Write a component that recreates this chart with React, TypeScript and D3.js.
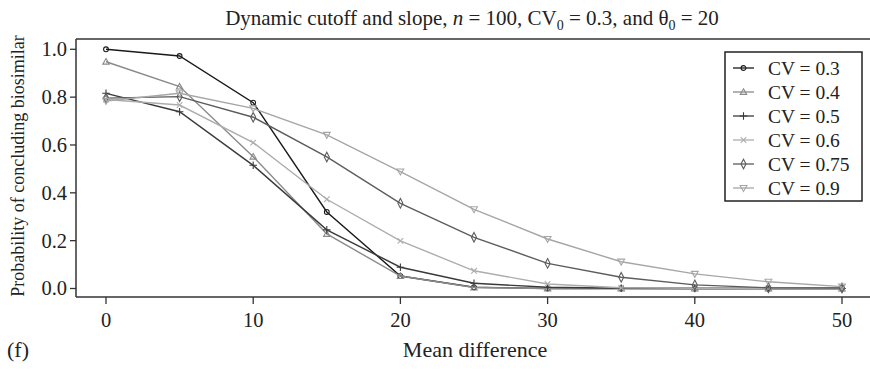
import React from "react";
import * as d3 from "d3";

// Mean difference grid shared by all series
const meanDiff = [0, 5, 10, 15, 20, 25, 30, 35, 40, 45, 50];

// Probability of concluding biosimilarity, one array per CV
const cv03 = [1.0, 0.972, 0.777, 0.32, 0.052, 0.005, 0.0, 0.0, 0.0, 0.0, 0.0];
const cv04 = [0.948, 0.844, 0.551, 0.228, 0.052, 0.004, 0.0, 0.0, 0.0, 0.0, 0.0];
const cv05 = [0.816, 0.739, 0.515, 0.245, 0.089, 0.022, 0.005, 0.001, 0.0, 0.0, 0.0];
const cv06 = [0.79, 0.767, 0.61, 0.373, 0.199, 0.074, 0.019, 0.003, 0.001, 0.0, 0.0];
const cv075 = [0.796, 0.802, 0.716, 0.55, 0.356, 0.214, 0.105, 0.047, 0.015, 0.003, 0.002];
const cv09 = [0.784, 0.816, 0.753, 0.642, 0.489, 0.331, 0.207, 0.112, 0.061, 0.028, 0.008];

const seriesLabels = ["CV = 0.3", "CV = 0.4", "CV = 0.5", "CV = 0.6", "CV = 0.75", "CV = 0.9"];
const xTicks = [0, 10, 20, 30, 40, 50];
const yTicks = [0, 0.2, 0.4, 0.6, 0.8, 1.0];

type Shape = "circle" | "triangle" | "plus" | "cross" | "diamond" | "triangleDown";

const styles: { color: string; shape: Shape }[] = [
  { color: "#1a1a1a", shape: "circle" },
  { color: "#8a8a8a", shape: "triangle" },
  { color: "#3a3a3a", shape: "plus" },
  { color: "#adadad", shape: "cross" },
  { color: "#5c5c5c", shape: "diamond" },
  { color: "#a6a6a6", shape: "triangleDown" },
];

const FONT = "Liberation Serif, DejaVu Serif, serif";

function markerPath(shape: Shape, cx: number, cy: number): string {
  switch (shape) {
    case "circle": {
      const r = 2.4;
      return `M${cx - r},${cy}a${r},${r} 0 1,0 ${2 * r},0a${r},${r} 0 1,0 ${-2 * r},0`;
    }
    case "triangle": {
      const s = 3.2;
      return `M${cx},${cy - s}L${cx + s},${cy + s * 0.75}L${cx - s},${cy + s * 0.75}Z`;
    }
    case "triangleDown": {
      const s = 3.4;
      return `M${cx - s},${cy - s * 0.75}L${cx + s},${cy - s * 0.75}L${cx},${cy + s}Z`;
    }
    case "plus": {
      const s = 3.8;
      return `M${cx - s},${cy}L${cx + s},${cy}M${cx},${cy - s}L${cx},${cy + s}`;
    }
    case "cross": {
      const s = 2.8;
      return `M${cx - s},${cy - s}L${cx + s},${cy + s}M${cx - s},${cy + s}L${cx + s},${cy - s}`;
    }
    case "diamond": {
      const w = 2.5;
      const h = 4.8;
      return `M${cx},${cy - h}L${cx + w},${cy}L${cx},${cy + h}L${cx - w},${cy}Z`;
    }
  }
}

export default function App() {
  const width = 870;
  const height = 370;
  const left = 76;
  const top = 39;
  const bottom = 297;
  const right = 870;

  const x = d3.scaleLinear().domain([0, 50]).range([106, 842]);
  const y = d3.scaleLinear().domain([0, 1]).range([288.5, 49.3]);

  const allSeries = [cv03, cv04, cv05, cv06, cv075, cv09];

  const line = d3
    .line<number>()
    .x((_, i) => x(meanDiff[i]))
    .y((d) => y(d));

  // legend geometry
  const lgX = 725;
  const lgY = 52;
  const lgW = 137;
  const lgH = 149;
  const rowH = 24;

  const textStyle = { fontFamily: FONT };

  return (
    <div style={{ position: "fixed", left: 0, top: 0 }}>
      <svg width={width} height={height} style={{ display: "block", background: "#fff" }}>
        {/* title */}
        <text x={472} y={25} textAnchor="middle" style={textStyle} fontSize={21} fill="#222">
          Dynamic cutoff and slope, <tspan fontStyle="italic">n</tspan> = 100, CV
          <tspan fontSize={14} dy={5}>0</tspan>
          <tspan dy={-5}> = 0.3, and θ</tspan>
          <tspan fontSize={14} dy={5}>0</tspan>
          <tspan dy={-5}> = 20</tspan>
        </text>

        {/* frame */}
        <g stroke="#333" strokeWidth={1.5} fill="none">
          <line x1={left} x2={right} y1={top} y2={top} />
          <line x1={left} x2={right} y1={bottom} y2={bottom} />
          <line x1={left} x2={left} y1={top} y2={bottom} />
        </g>

        {/* y axis */}
        {yTicks.map((t) => (
          <g key={`y${t}`}>
            <line x1={left - 6} x2={left} y1={y(t)} y2={y(t)} stroke="#333" strokeWidth={1.3} />
            <text
              x={left - 9}
              y={y(t)}
              dy="0.34em"
              textAnchor="end"
              style={textStyle}
              fontSize={20.5}
              fill="#222"
            >
              {t.toFixed(1)}
            </text>
          </g>
        ))}

        {/* x axis */}
        {xTicks.map((t) => (
          <g key={`x${t}`}>
            <line x1={x(t)} x2={x(t)} y1={bottom} y2={bottom + 7} stroke="#333" strokeWidth={1.3} />
            <text x={x(t)} y={327} textAnchor="middle" style={textStyle} fontSize={20.5} fill="#222">
              {t}
            </text>
          </g>
        ))}

        {/* axis titles */}
        <text
          transform={`translate(18,${(top + bottom) / 2 - 2}) rotate(-90)`}
          dy="0.34em"
          textAnchor="middle"
          style={textStyle}
          fontSize={18}
          fill="#222"
        >
          Probability of concluding biosimilar
        </text>
        <text x={475} y={357} textAnchor="middle" style={textStyle} fontSize={22} fill="#222">
          Mean difference
        </text>
        <text x={7} y={357} style={textStyle} fontSize={22} fill="#222">
          (f)
        </text>

        {/* series */}
        {allSeries.map((vals, si) => {
          const st = styles[si];
          return (
            <g key={`s${si}`}>
              <path d={line(vals) || ""} fill="none" stroke={st.color} strokeWidth={1.4} />
              {vals.map((v, i) => (
                <path
                  key={i}
                  d={markerPath(st.shape, x(meanDiff[i]), y(v))}
                  fill="none"
                  stroke={st.color}
                  strokeWidth={1.1}
                />
              ))}
            </g>
          );
        })}

        {/* legend */}
        <rect x={lgX} y={lgY} width={lgW} height={lgH} fill="#fff" stroke="#222" strokeWidth={1.5} />
        {seriesLabels.map((lab, i) => {
          const st = styles[i];
          const cy = lgY + 16 + i * rowH;
          return (
            <g key={lab}>
              <line x1={lgX + 8} x2={lgX + 29} y1={cy} y2={cy} stroke={st.color} strokeWidth={1.3} />
              <path d={markerPath(st.shape, lgX + 18.5, cy)} fill="none" stroke={st.color} strokeWidth={1.1} />
              <text x={lgX + 43} y={cy} dy="0.34em" style={textStyle} fontSize={19.5} fill="#222">
                {lab}
              </text>
            </g>
          );
        })}
      </svg>
    </div>
  );
}
